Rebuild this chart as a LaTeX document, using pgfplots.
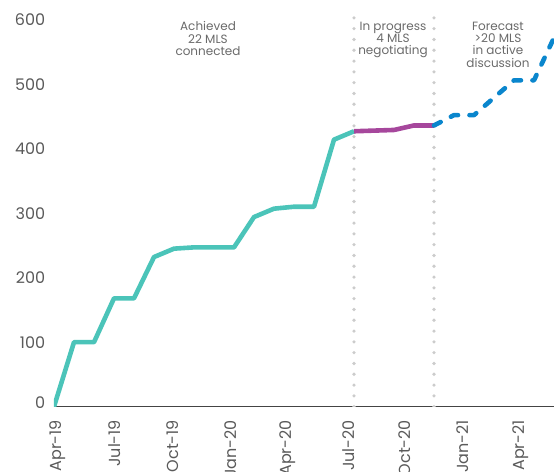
\documentclass[border=0pt]{standalone}
\usepackage{pgfplots}
\pgfplotsset{compat=1.18}
\usepackage{fontspec}
\setmainfont{Poppins}
\definecolor{tealc}{HTML}{4BC4B9}
\definecolor{purpc}{HTML}{A6479C}
\definecolor{bluec}{HTML}{0A86CD}
\definecolor{labgray}{HTML}{5A5A5A}
\definecolor{anngray}{HTML}{6A6A6A}
\definecolor{axgray}{HTML}{444444}
\definecolor{dotgray}{HTML}{CCCCCC}
\begin{document}
\begin{tikzpicture}
\begin{axis}[
  x=20pt, y=0.645pt,
  xmin=0, xmax=25, ymin=0, ymax=630,
  axis x line=bottom, axis y line=left,
  x axis line style={-, draw=axgray, line width=1pt},
  y axis line style={draw=none},
  tick style={draw=none},
  ytick={0,100,200,300,400,500,600},
  yticklabels={\raisebox{4pt}[\height][\depth]{0},100,200,300,400,500,600},
  xtick={0.2,3.05,5.95,8.85,11.7,14.75,17.55,20.45,23.35},
  xticklabels={Apr-19,Jul-19,Oct-19,Jan-20,Apr-20,Jul-20,Oct-20,Jan-21,Apr-21},
  xticklabel style={rotate=90, anchor=east, inner sep=0pt, font=\fontsize{16}{16}\selectfont, text=labgray},
  xticklabel shift=11pt,
  yticklabel style={anchor=east, inner sep=0pt, font=\fontsize{16}{16}\selectfont, text=labgray},
  yticklabel shift=6.5pt,
  clip=true,
]
\addplot[dotgray, line width=3.6pt, line cap=round, dash pattern=on 0pt off 10.8pt] coordinates {(15,0) (15,616)};
\addplot[dotgray, line width=3.6pt, line cap=round, dash pattern=on 0pt off 10.8pt] coordinates {(19,0) (19,616)};
\addplot[tealc, line width=4.6pt, line join=round] coordinates {
(0,0) (1,100) (2,100) (3,168) (4,168) (5,232) (6,245) (7,247) (8,247) (9,247)
(10,294) (11,307) (12,310) (13,310) (14,414) (15,427)};
\addplot[purpc, line width=4.6pt, line join=round] coordinates {
(15,427) (16,428) (17,429) (18,436) (19,436)};
\addplot[bluec, line width=4.6pt, line join=round, line cap=round, dash pattern=on 7.5pt off 11.5pt] coordinates {
(19,436) (20,452) (21,452) (22,479) (23,506) (24,506) (25,572)};
\node[anchor=north, align=center, inner sep=0pt, text=anngray, font=\fontsize{12}{12.3}\selectfont] at (axis cs:7.7,597) {Achieved\\22 MLS\\connected};
\node[anchor=north, align=center, inner sep=0pt, text=anngray, font=\fontsize{12}{12.3}\selectfont] at (axis cs:16.95,597) {In progress\\4 MLS\\negotiating};
\node[anchor=north, align=center, inner sep=0pt, text=anngray, font=\fontsize{12}{12.3}\selectfont] at (axis cs:22.2,597) {Forecast\\>20 MLS\\in active\\discussion};
\coordinate (ll) at (axis cs:-2.7,-101.2);
\coordinate (ur) at (axis cs:25,630.5);
\end{axis}
\pgfresetboundingbox
\path[use as bounding box] (ll) rectangle (ur);
\end{tikzpicture}
\end{document}
